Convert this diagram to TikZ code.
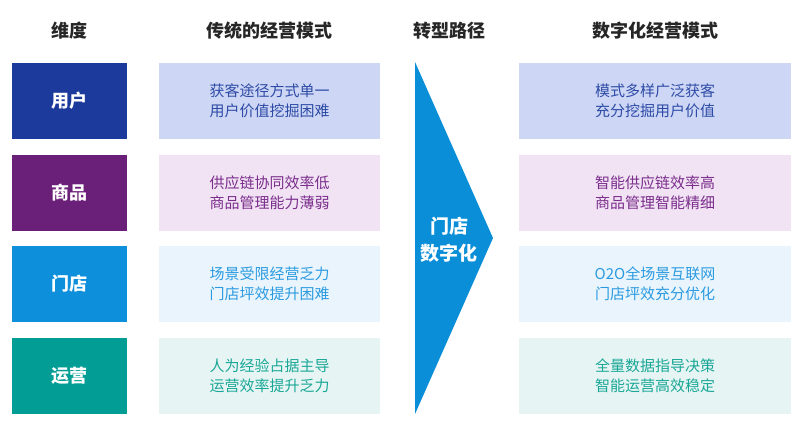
\documentclass[tikz,border=0pt]{standalone}
\usepackage{fontspec}
\setmainfont{Noto Sans CJK SC}
\definecolor{cUser}{HTML}{1B3A9C}
\definecolor{cGoods}{HTML}{6A1F78}
\definecolor{cStore}{HTML}{0E8FDC}
\definecolor{cOps}{HTML}{029E95}
\definecolor{fUser}{HTML}{CDD6F5}
\definecolor{fGoods}{HTML}{F1E2F4}
\definecolor{fStore}{HTML}{EAF4FD}
\definecolor{fOps}{HTML}{E6F5F3}
\definecolor{tUser}{HTML}{2D4BA6}
\definecolor{tGoods}{HTML}{7B2E8C}
\definecolor{tStore}{HTML}{2A9BE0}
\definecolor{tOps}{HTML}{1AA797}
\definecolor{cArrow}{HTML}{0A8ED8}
\begin{document}
\begin{tikzpicture}[x=1pt,y=-1pt,
  header/.style={font=\fontsize{18}{20}\selectfont\bfseries, text=black!85},
  dimbox/.style={rectangle, minimum width=115pt, minimum height=76pt, inner sep=0pt,
    text=white, font=\fontsize{18}{20}\selectfont\bfseries},
  oldbox/.style={rectangle, minimum width=221pt, minimum height=76pt, inner sep=0pt,
    align=center, font=\fontsize{15}{20}\selectfont},
  newbox/.style={rectangle, minimum width=272pt, minimum height=76pt, inner sep=0pt,
    align=center, font=\fontsize{15}{20}\selectfont}]
\useasboundingbox (0,0) rectangle (800,427);
\fill[white] (0,0) rectangle (800,427);
% headers
\node[header] (h1) at (69.5,31) {维度};
\node[header] (h2) at (269.5,31) {传统的经营模式};
\node[header] (h3) at (449,31) {转型路径};
\node[header] (h4) at (655,31) {数字化经营模式};
% dimension boxes
\node[dimbox, fill=cUser] (d1) at (69.5,101) {用户};
\node[dimbox, fill=cGoods] (d2) at (69.5,193) {商品};
\node[dimbox, fill=cStore] (d3) at (69.5,284) {门店};
\node[dimbox, fill=cOps] (d4) at (69.5,376) {运营};
% traditional
\node[oldbox, fill=fUser, text=tUser] (o1) at (269.5,101) {获客途径方式单一\\用户价值挖掘困难};
\node[oldbox, fill=fGoods, text=tGoods] (o2) at (269.5,193) {供应链协同效率低\\商品管理能力薄弱};
\node[oldbox, fill=fStore, text=tStore] (o3) at (269.5,284) {场景受限经营乏力\\门店坪效提升困难};
\node[oldbox, fill=fOps, text=tOps] (o4) at (269.5,376) {人为经验占据主导\\运营效率提升乏力};
% digital
\node[newbox, fill=fUser, text=tUser] (n1) at (655,101) {模式多样广泛获客\\充分挖掘用户价值};
\node[newbox, fill=fGoods, text=tGoods] (n2) at (655,193) {智能供应链效率高\\商品管理智能精细};
\node[newbox, fill=fStore, text=tStore] (n3) at (655,284) {O2O全场景互联网\\门店坪效充分优化};
\node[newbox, fill=fOps, text=tOps] (n4) at (655,376) {全量数据指导决策\\智能运营高效稳定};
% arrow
\fill[cArrow] (415,62) -- (493,238) -- (415,414) -- cycle;
\node[text=white, align=center, font=\fontsize{19}{27}\selectfont\bfseries] (t) at (449,240) {门店\\数字化};
\end{tikzpicture}
\end{document}
